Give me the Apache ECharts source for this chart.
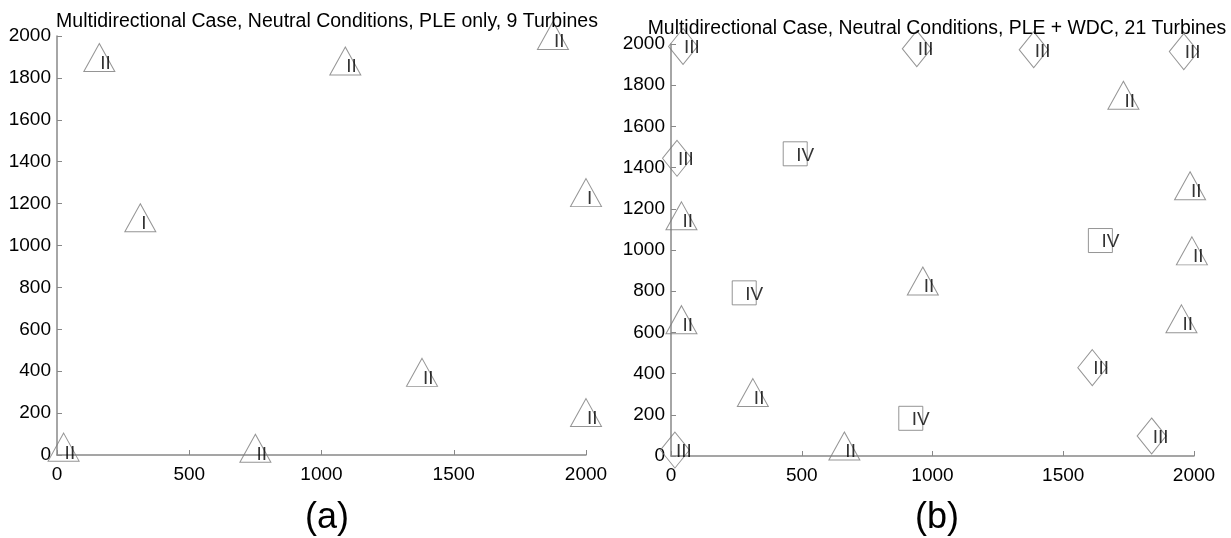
<!DOCTYPE html>
<html>
<head>
<meta charset="utf-8">
<script src="https://cdn.jsdelivr.net/npm/echarts@6/dist/echarts.min.js"></script>
<style>
  html, body { margin: 0; padding: 0; background: #fff; }
  #chart { width: 1231px; height: 538px; }
</style>
</head>
<body>
<div id="chart"></div>
<script>
// ---- Data: panel (a) PLE only, 9 turbines ----
const classA = ['II', 'II', 'II', 'I', 'I', 'II', 'II', 'II', 'II'];
const xA = [160, 1090, 1875, 315, 2000, 1380, 2000, 25, 750];
const yA = [1875, 1858, 1980, 1110, 1230, 372, 180, 15, 10];

// ---- Data: panel (b) PLE + WDC, 21 turbines ----
const classB = ['III', 'III', 'III', 'III', 'II', 'III', 'IV', 'II', 'II', 'IV', 'II',
                'II', 'IV', 'II', 'II', 'III', 'II', 'IV', 'III', 'II', 'III'];
const xB = [46, 940, 1387, 1961, 1730, 23, 475, 1985, 40, 1642, 1992,
            963, 280, 40, 1952, 1611, 313, 917, 1838, 663, 15];
const yB = [1988, 1977, 1972, 1963, 1728, 1445, 1467, 1289, 1143, 1046, 973,
            827, 792, 639, 643, 429, 285, 183, 97, 26, 29];

// ---- Axis ticks ----
const xTicks = [0, 500, 1000, 1500, 2000];
const yTicks = [0, 200, 400, 600, 800, 1000, 1200, 1400, 1600, 1800, 2000];

const titleA = 'Multidirectional Case, Neutral Conditions, PLE only, 9 Turbines';
const titleB = 'Multidirectional Case, Neutral Conditions, PLE + WDC, 21 Turbines';
const panelLabels = ['(a)', '(b)'];

const FONT = "'Liberation Sans', Arial, Helvetica, sans-serif";
const markerColor = '#7a7a7a';

const shapeOf = { 'I': 'triangle', 'II': 'triangle', 'III': 'diamond', 'IV': 'rect' };
const sizeOf = { triangle: [31, 28], diamond: [29, 36], rect: [24, 24] };

function buildSeries(xs, ys, cls, gridIdx) {
  const groups = { triangle: [], diamond: [], rect: [] };
  xs.forEach((x, i) => groups[shapeOf[cls[i]]].push([x, ys[i], cls[i]]));
  return Object.keys(groups).filter(k => groups[k].length).map(shape => ({
    type: 'scatter',
    xAxisIndex: gridIdx,
    yAxisIndex: gridIdx,
    clip: false,
    symbol: shape,
    symbolSize: sizeOf[shape],
    symbolOffset: shape === 'triangle' ? [0, -4.7] : [0, 0],
    data: groups[shape],
    itemStyle: { color: 'rgba(0,0,0,0)', borderColor: markerColor, borderWidth: 1 },
    label: {
      show: true,
      position: 'inside',
      align: 'left',
      verticalAlign: 'middle',
      offset: shape === 'triangle' ? [1, 6.2] : [1, 1.5],
      formatter: p => p.value[2],
      fontSize: 19,
      fontFamily: FONT,
      color: '#000'
    },
    emphasis: { disabled: true },
    silent: true
  }));
}

function xAxisDef(gridIdx) {
  return {
    gridIndex: gridIdx, type: 'value', min: 0, max: 2000, interval: 500,
    axisLine: { show: true, onZero: false, lineStyle: { color: '#888', width: 1.5 } },
    axisTick: { show: true, inside: true, length: 5, lineStyle: { color: '#888' } },
    axisLabel: { show: true, fontSize: 19, fontFamily: FONT, color: '#000', margin: 10,
                 formatter: v => xTicks.includes(v) ? String(v) : '' },
    splitLine: { show: false }
  };
}
function yAxisDef(gridIdx) {
  return {
    gridIndex: gridIdx, type: 'value', min: 0, max: 2000, interval: 200,
    axisLine: { show: true, onZero: false, lineStyle: { color: '#888', width: 1.5 } },
    axisTick: { show: true, inside: true, length: 5, lineStyle: { color: '#888' } },
    axisLabel: { show: true, fontSize: 19, fontFamily: FONT, color: '#000', margin: 6,
                 formatter: v => yTicks.includes(v) ? String(v) : '' },
    splitLine: { show: false }
  };
}

const chart = echarts.init(document.getElementById('chart'), null, { renderer: 'canvas' });
chart.setOption({
  animation: false,
  backgroundColor: '#fff',
  title: [
    { text: titleA, left: 322, top: 7, textAlign: 'center',
      textStyle: { fontSize: 19.5, fontWeight: 'normal', fontFamily: FONT, color: '#000' } },
    { text: titleB, left: 932, top: 14, textAlign: 'center',
      textStyle: { fontSize: 19.4, fontWeight: 'normal', fontFamily: FONT, color: '#000' } },
    { text: panelLabels[0], left: 322, top: 495, textAlign: 'center',
      textStyle: { fontSize: 36, fontWeight: 'normal', fontFamily: FONT, color: '#000' } },
    { text: panelLabels[1], left: 932, top: 495, textAlign: 'center',
      textStyle: { fontSize: 36, fontWeight: 'normal', fontFamily: FONT, color: '#000' } }
  ],
  grid: [
    { left: 57, top: 36, width: 529, height: 419, containLabel: false },
    { left: 671, top: 44, width: 523, height: 412, containLabel: false }
  ],
  xAxis: [xAxisDef(0), xAxisDef(1)],
  yAxis: [yAxisDef(0), yAxisDef(1)],
  series: [
    ...buildSeries(xA, yA, classA, 0),
    ...buildSeries(xB, yB, classB, 1)
  ]
});
</script>
</body>
</html>
